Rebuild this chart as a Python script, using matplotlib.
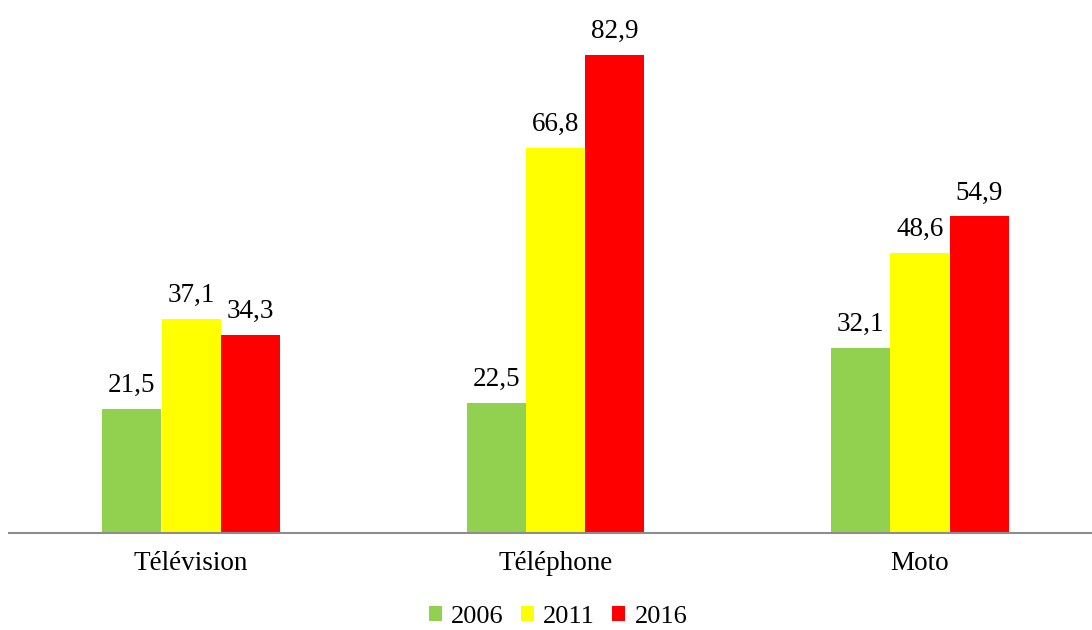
import matplotlib.pyplot as plt
import numpy as np

categories = ["Télévision", "Téléphone", "Moto"]
years = ["2006", "2011", "2016"]
values_2006 = [21.5, 22.5, 32.1]
values_2011 = [37.1, 66.8, 48.6]
values_2016 = [34.3, 82.9, 54.9]
colors = ["#92d050", "#ffff00", "#ff0000"]

plt.rcParams["font.family"] = ["Liberation Serif", "DejaVu Serif"]

fig = plt.figure(figsize=(10.92, 6.3), dpi=100)
ax = fig.add_axes([9 / 1092, 97.5 / 630, 1083 / 1092, 518.4 / 630])

x = np.arange(len(categories))
width = 0.162
offsets = [-0.163, 0.0, 0.163]
series = [values_2006, values_2011, values_2016]

for vals, off, col, year in zip(series, offsets, colors, years):
    bars = ax.bar(x + off, vals, width, color=col, label=year, zorder=2)
    for b, v in zip(bars, vals):
        ax.annotate(
            f"{v:.1f}".replace(".", ","),
            (b.get_x() + b.get_width() / 2, v),
            xytext=(0, 12),
            textcoords="offset points",
            ha="center",
            va="baseline",
            fontsize=19.5,
        )

ax.set_xlim(-0.5, 2.5 - 10 / 364.5)
ax.set_ylim(0, 90)

for name, spine in ax.spines.items():
    spine.set_visible(name == "bottom")
ax.spines["bottom"].set_color("#8c8c8c")
ax.spines["bottom"].set_linewidth(1.5)
ax.spines["bottom"].set_zorder(3)

ax.set_yticks([])
ax.set_xticks(x)
ax.set_xticklabels(categories, fontsize=19.5)
ax.tick_params(axis="x", length=0, pad=13)

ax.legend(
    loc="center",
    bbox_to_anchor=(558 / 1092, 13 / 630),
    bbox_transform=fig.transFigure,
    ncol=3,
    frameon=False,
    fontsize=19,
    handlelength=0.5,
    handleheight=0.5,
    handletextpad=0.35,
    columnspacing=0.65,
)

fig.savefig("out.png", dpi=100, facecolor="white")
